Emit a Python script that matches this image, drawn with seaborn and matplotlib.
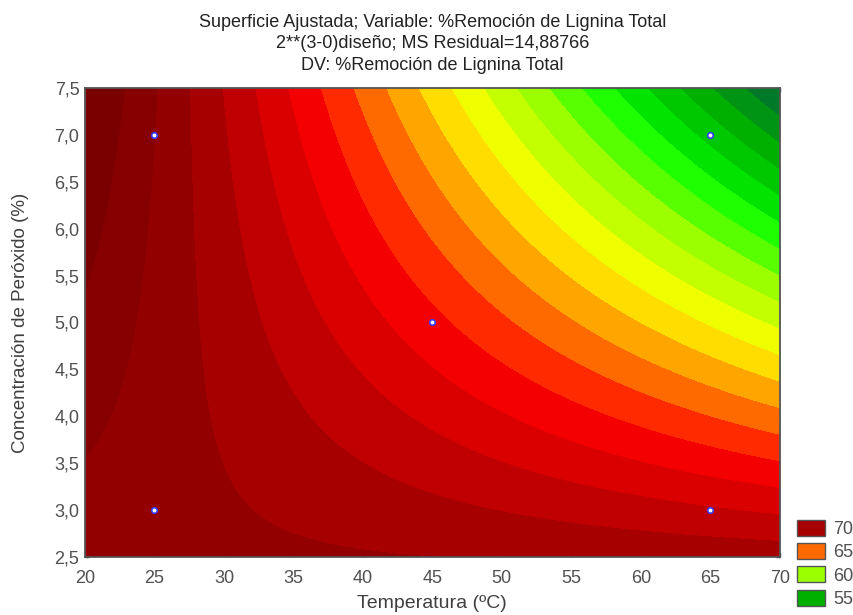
import numpy as np
import seaborn as sns
import matplotlib.pyplot as plt
from matplotlib.patches import Patch
from matplotlib.ticker import FuncFormatter

sns.set_theme(style='white')
plt.rcParams['font.family'] = ['Liberation Sans', 'DejaVu Sans']

temperatura = [25, 25, 45, 65, 65]
peroxido = [3, 7, 5, 3, 7]
remocion = [70.4, 71.0, 66.3, 68.1, 55.6]

# niveles del contorno y colores (de menor a mayor)
niveles = [50] + list(range(52, 73)) + [75]
colores = ['#006233', '#007a28', '#009414', '#00b000', '#00c800', '#00e400',
           '#1eff00', '#58ff00', '#9cff00', '#c4ff00', '#f0ff00', '#ffdd00',
           '#ffa500', '#ff6a00', '#ff2a00', '#f50000', '#da0000', '#c00000',
           '#a60000', '#920000', '#860000', '#7a0000']
leyenda_niveles = [70, 65, 60, 55]

xticks = np.arange(20, 71, 5)
yticks = np.arange(2.5, 7.51, 0.5)

# superficie ajustada: modelo lineal con interacción
T = np.array(temperatura, dtype=float)
C = np.array(peroxido, dtype=float)
X = np.column_stack([np.ones_like(T), T, C, T * C])
coef, *_ = np.linalg.lstsq(X, np.array(remocion), rcond=None)

tt, cc = np.meshgrid(np.linspace(20, 70, 400), np.linspace(2.5, 7.5, 400))
zz = coef[0] + coef[1] * tt + coef[2] * cc + coef[3] * tt * cc

fig = plt.figure(figsize=(8.54, 6.15), dpi=100)
ax = fig.add_axes([0.0995, 0.0943, 0.8135, 0.7627])
# dos pasadas para tapar las costuras blancas entre bandas
ax.contourf(tt, cc, zz, levels=niveles, colors=colores)
ax.contourf(tt, cc, zz, levels=niveles, colors=colores)

sns.scatterplot(x=temperatura, y=peroxido, ax=ax, s=16, color='white',
                edgecolor='#3a3aff', linewidth=1.2, zorder=5, legend=False)

ax.set_xlim(20, 70)
ax.set_ylim(2.5, 7.5)
ax.set_xticks(xticks)
ax.set_yticks(yticks)
ax.xaxis.set_major_formatter(FuncFormatter(lambda v, p: f'{v:.0f}'))
ax.yaxis.set_major_formatter(FuncFormatter(lambda v, p: f'{v:.1f}'.replace('.', ',')))
ax.tick_params(direction='in', length=3, width=1, colors='#222222',
               labelcolor='#505050', labelsize=13, top=True, right=True,
               bottom=True, left=True, pad=4)
ax.tick_params(axis='x', pad=9)
for s in ax.spines.values():
    s.set_color('#555555')
    s.set_linewidth(1.3)

ax.set_xlabel('Temperatura (ºC)', fontsize=14, color='#404040', labelpad=6)
ax.set_ylabel('Concentración de Peróxido (%)', fontsize=13.5, color='#404040', labelpad=18)
ax.set_title('Superficie Ajustada; Variable: %Remoción de Lignina Total\n'
             '2**(3-0)diseño; MS Residual=14,88766\n'
             'DV: %Remoción de Lignina Total',
             fontsize=13, color='#222222', linespacing=1.34, pad=13)

handles = []
for lv in leyenda_niveles:
    idx = niveles.index(lv) - 1
    handles.append(Patch(facecolor=colores[idx], edgecolor='#555555', linewidth=1))
fig.legend(handles, [str(v) for v in leyenda_niveles], loc='upper left',
           bbox_to_anchor=(0.933, 0.155), frameon=False, fontsize=13,
           handlelength=1.55, handleheight=1.0, handletextpad=0.45,
           labelspacing=0.28, labelcolor='#505050', borderaxespad=0,
           borderpad=0)

plt.savefig('out.png', dpi=100)
